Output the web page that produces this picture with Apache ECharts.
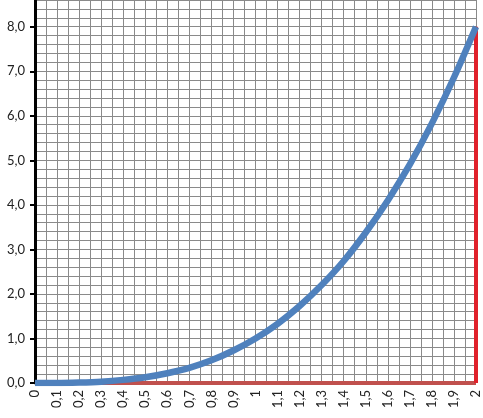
<!DOCTYPE html>
<html><head><meta charset="utf-8">
<script src="https://cdn.jsdelivr.net/npm/echarts@6/dist/echarts.min.js"></script>
<style>html,body{margin:0;padding:0;background:#fff}#c{width:483px;height:418px}</style>
</head><body><div id="c"></div>
<script>
const xValues = [0,0.1,0.2,0.3,0.4,0.5,0.6,0.7,0.8,0.9,1,1.1,1.2,1.3,1.4,1.5,1.6,1.7,1.8,1.9,2];
const xTickLabels = ['0','0,1','0,2','0,3','0,4','0,5','0,6','0,7','0,8','0,9','1','1,1','1,2','1,3','1,4','1,5','1,6','1,7','1,8','1,9','2'];
const curveValues = [0,0.00,0.01,0.03,0.07,0.13,0.22,0.34,0.51,0.73,1.00,1.33,1.73,2.20,2.74,3.38,4.10,4.91,5.83,6.86,8.0];
const yTicks = [0,1,2,3,4,5,6,7,8];
const yTickLabels = ['0,0','1,0','2,0','3,0','4,0','5,0','6,0','7,0','8,0'];
const baseLine = [[0,0],[2,0]];
const rightLine = [[2,0],[2,8]];

const chart = echarts.init(document.getElementById('c'));
const font = 'Lato, "Open Sans", sans-serif';
const grid = {color:'#8a8a8a',width:1};
chart.setOption({
  animation:false,
  grid:{left:35,right:7,top:0,bottom:35},
  xAxis:[
    {type:'value',min:0,max:2,interval:0.05,
      axisLine:{show:false},axisTick:{show:false},axisLabel:{show:false},
      splitLine:{show:true,lineStyle:grid}},
    {type:'value',min:0,max:2,position:'bottom',
      axisLine:{show:false},axisTick:{show:false},splitLine:{show:false},
      axisLabel:{customValues:xValues,rotate:90,margin:7,fontSize:13,color:'#222',fontFamily:font,
        formatter:(v)=>{const i=xValues.findIndex(x=>Math.abs(x-Number(v))<1e-6);return i>=0?xTickLabels[i]:'';}}}
  ],
  yAxis:[
    {type:'value',min:0,max:8.6,interval:0.2,
      axisLine:{show:true,onZero:false,lineStyle:{color:'#000',width:3}},
      axisTick:{show:false},axisLabel:{show:false},
      splitLine:{show:true,lineStyle:grid}},
    {type:'value',min:0,max:8.6,position:'left',
      axisLine:{show:false},splitLine:{show:false},
      axisTick:{show:true,customValues:yTicks,length:5,lineStyle:{color:'#000',width:2}},
      axisLabel:{customValues:yTicks,margin:10,fontSize:13,color:'#222',fontFamily:font,
        formatter:(v)=>{const i=yTicks.findIndex(x=>Math.abs(x-Number(v))<1e-6);return i>=0?yTickLabels[i]:'';}}}
  ],
  series:[
    {type:'line',data:baseLine,symbol:'none',lineStyle:{color:'#C0504D',width:4},z:3},
    {type:'line',data:rightLine,symbol:'none',lineStyle:{color:'#E0212B',width:4},z:3},
    {type:'line',data:xValues.map((x,i)=>[x,curveValues[i]]),symbol:'none',smooth:0.3,
      lineStyle:{color:'#4F81BD',width:6.5},z:4}
  ]
});
</script></body></html>
